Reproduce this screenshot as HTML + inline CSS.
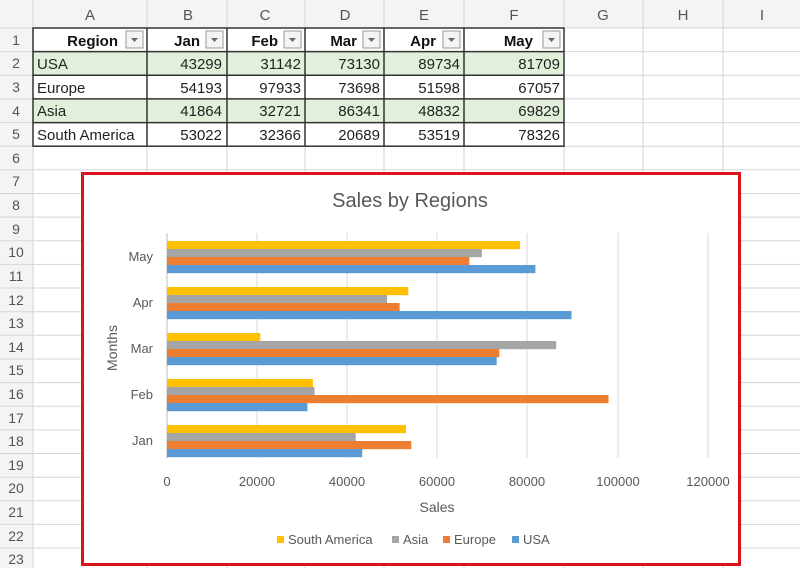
<!DOCTYPE html>
<html><head><meta charset="utf-8"><style>
html,body{margin:0;padding:0;background:#fff;}
svg{display:block;font-family:"Liberation Sans",sans-serif;}
</style></head><body>
<svg width="800" height="568" viewBox="0 0 800 568" xmlns="http://www.w3.org/2000/svg">
<rect width="800" height="568" fill="#fff"/>
<!-- column header band -->
<rect x="0" y="0" width="800" height="28" fill="#f4f4f4"/>
<rect x="0" y="0" width="33" height="568" fill="#f4f4f4"/>
<g stroke="#d6d6d6" stroke-width="1">
<line x1="33" y1="0" x2="33" y2="568"/><line x1="147" y1="0" x2="147" y2="568"/><line x1="227" y1="0" x2="227" y2="568"/><line x1="305" y1="0" x2="305" y2="568"/><line x1="384" y1="0" x2="384" y2="568"/><line x1="464" y1="0" x2="464" y2="568"/><line x1="564" y1="0" x2="564" y2="568"/><line x1="643" y1="0" x2="643" y2="568"/><line x1="723" y1="0" x2="723" y2="568"/>
<line x1="0" y1="28" x2="800" y2="28"/><line x1="0" y1="51.6" x2="800" y2="51.6"/><line x1="0" y1="75.3" x2="800" y2="75.3"/><line x1="0" y1="98.9" x2="800" y2="98.9"/><line x1="0" y1="122.6" x2="800" y2="122.6"/><line x1="0" y1="146.2" x2="800" y2="146.2"/><line x1="0" y1="169.8" x2="800" y2="169.8"/><line x1="0" y1="193.5" x2="800" y2="193.5"/><line x1="0" y1="217.1" x2="800" y2="217.1"/><line x1="0" y1="240.8" x2="800" y2="240.8"/><line x1="0" y1="264.4" x2="800" y2="264.4"/><line x1="0" y1="288" x2="800" y2="288"/><line x1="0" y1="311.7" x2="800" y2="311.7"/><line x1="0" y1="335.3" x2="800" y2="335.3"/><line x1="0" y1="359" x2="800" y2="359"/><line x1="0" y1="382.6" x2="800" y2="382.6"/><line x1="0" y1="406.2" x2="800" y2="406.2"/><line x1="0" y1="429.9" x2="800" y2="429.9"/><line x1="0" y1="453.5" x2="800" y2="453.5"/><line x1="0" y1="477.2" x2="800" y2="477.2"/><line x1="0" y1="500.8" x2="800" y2="500.8"/><line x1="0" y1="524.4" x2="800" y2="524.4"/><line x1="0" y1="548.1" x2="800" y2="548.1"/>
</g>
<g fill="#555" font-size="15" text-anchor="middle">
<text x="90" y="20">A</text><text x="188" y="20">B</text><text x="265" y="20">C</text><text x="345" y="20">D</text><text x="424" y="20">E</text><text x="514" y="20">F</text><text x="603" y="20">G</text><text x="683" y="20">H</text><text x="762" y="20">I</text>
</g>
<g fill="#555" font-size="14" text-anchor="middle">
<text x="16" y="45">1</text><text x="16" y="68">2</text><text x="16" y="92">3</text><text x="16" y="116">4</text><text x="16" y="139">5</text><text x="16" y="163">6</text><text x="16" y="186">7</text><text x="16" y="210">8</text><text x="16" y="234">9</text><text x="16" y="257">10</text><text x="16" y="281">11</text><text x="16" y="305">12</text><text x="16" y="328">13</text><text x="16" y="352">14</text><text x="16" y="375">15</text><text x="16" y="399">16</text><text x="16" y="423">17</text><text x="16" y="446">18</text><text x="16" y="470">19</text><text x="16" y="493">20</text><text x="16" y="517">21</text><text x="16" y="541">22</text><text x="16" y="564">23</text>
</g>
<!-- table -->
<rect x="33" y="28" width="531" height="23.6" fill="#fff"/>
<rect x="33" y="51.6" width="531" height="23.7" fill="#e2efda"/>
<rect x="33" y="98.9" width="531" height="23.7" fill="#e2efda"/>
<g stroke="#333" stroke-width="1.5" fill="none">
<rect x="33" y="28" width="531" height="118.2"/>
<line x1="33" y1="51.6" x2="564" y2="51.6"/><line x1="33" y1="75.3" x2="564" y2="75.3"/><line x1="33" y1="98.9" x2="564" y2="98.9"/><line x1="33" y1="122.6" x2="564" y2="122.6"/>
<line x1="147" y1="28" x2="147" y2="146"/><line x1="227" y1="28" x2="227" y2="146"/><line x1="305" y1="28" x2="305" y2="146"/><line x1="384" y1="28" x2="384" y2="146"/><line x1="464" y1="28" x2="464" y2="146"/>
</g>
<g fill="#f4f4f4" stroke="#999">
<rect x="126" y="31" width="17" height="17"/><rect x="206" y="31" width="17" height="17"/><rect x="284" y="31" width="17" height="17"/><rect x="363" y="31" width="17" height="17"/><rect x="443" y="31" width="17" height="17"/><rect x="543" y="31" width="17" height="17"/>
</g>
<g fill="#666"><path d="M131 38h7l-3.5 4z"/><path d="M211 38h7l-3.5 4z"/><path d="M289 38h7l-3.5 4z"/><path d="M368 38h7l-3.5 4z"/><path d="M448 38h7l-3.5 4z"/><path d="M548 38h7l-3.5 4z"/></g>
<g font-size="15" font-weight="bold" fill="#111" text-anchor="end">
<text x="118" y="46">Region</text><text x="200" y="46">Jan</text><text x="278" y="46">Feb</text><text x="357" y="46">Mar</text><text x="436" y="46">Apr</text><text x="533" y="46">May</text>
</g>
<g font-size="15" fill="#222">
<text x="37" y="69">USA</text><text x="37" y="93">Europe</text><text x="37" y="116">Asia</text><text x="37" y="140">South America</text>
</g>
<g font-size="15" fill="#222" text-anchor="end">
<text x="222" y="69">43299</text><text x="301" y="69">31142</text><text x="380" y="69">73130</text><text x="460" y="69">89734</text><text x="560" y="69">81709</text>
<text x="222" y="93">54193</text><text x="301" y="93">97933</text><text x="380" y="93">73698</text><text x="460" y="93">51598</text><text x="560" y="93">67057</text>
<text x="222" y="116">41864</text><text x="301" y="116">32721</text><text x="380" y="116">86341</text><text x="460" y="116">48832</text><text x="560" y="116">69829</text>
<text x="222" y="140">53022</text><text x="301" y="140">32366</text><text x="380" y="140">20689</text><text x="460" y="140">53519</text><text x="560" y="140">78326</text>
</g>
<!-- chart -->
<rect x="82.5" y="173.5" width="657" height="391" fill="#fff" stroke="#d9141c" stroke-width="3"/>
<text x="410" y="207" font-size="20" fill="#595959" text-anchor="middle">Sales by Regions</text>
<g stroke="#d9d9d9" stroke-width="1">
<line x1="257" y1="233" x2="257" y2="458"/><line x1="347" y1="233" x2="347" y2="458"/><line x1="437" y1="233" x2="437" y2="458"/><line x1="527" y1="233" x2="527" y2="458"/><line x1="618" y1="233" x2="618" y2="458"/><line x1="708" y1="233" x2="708" y2="458"/>
</g>
<line x1="167" y1="233" x2="167" y2="458" stroke="#bfbfbf"/>
<g>
<!-- May -->
<rect x="167" y="241" width="353.1" height="8.2" fill="#FFC000"/><rect x="167" y="249" width="314.8" height="8.2" fill="#A5A5A5"/><rect x="167" y="257" width="302.3" height="8.2" fill="#ED7D31"/><rect x="167" y="265" width="368.4" height="8.2" fill="#5B9BD5"/>
<!-- Apr -->
<rect x="167" y="287" width="241.3" height="8.2" fill="#FFC000"/><rect x="167" y="295" width="220.1" height="8.2" fill="#A5A5A5"/><rect x="167" y="303" width="232.6" height="8.2" fill="#ED7D31"/><rect x="167" y="311" width="404.5" height="8.2" fill="#5B9BD5"/>
<!-- Mar -->
<rect x="167" y="333" width="93.3" height="8.2" fill="#FFC000"/><rect x="167" y="341" width="389.2" height="8.2" fill="#A5A5A5"/><rect x="167" y="349" width="332.3" height="8.2" fill="#ED7D31"/><rect x="167" y="357" width="329.7" height="8.2" fill="#5B9BD5"/>
<!-- Feb -->
<rect x="167" y="379" width="145.9" height="8.2" fill="#FFC000"/><rect x="167" y="387" width="147.5" height="8.2" fill="#A5A5A5"/><rect x="167" y="395" width="441.5" height="8.2" fill="#ED7D31"/><rect x="167" y="403" width="140.4" height="8.2" fill="#5B9BD5"/>
<!-- Jan -->
<rect x="167" y="425" width="239.0" height="8.2" fill="#FFC000"/><rect x="167" y="433" width="188.7" height="8.2" fill="#A5A5A5"/><rect x="167" y="441" width="244.3" height="8.2" fill="#ED7D31"/><rect x="167" y="449" width="195.2" height="8.2" fill="#5B9BD5"/>
</g>
<g font-size="13" fill="#595959" text-anchor="end">
<text x="153" y="261">May</text><text x="153" y="307">Apr</text><text x="153" y="353">Mar</text><text x="153" y="399">Feb</text><text x="153" y="445">Jan</text>
</g>
<g font-size="13" fill="#595959" text-anchor="middle">
<text x="167" y="486">0</text><text x="257" y="486">20000</text><text x="347" y="486">40000</text><text x="437" y="486">60000</text><text x="527" y="486">80000</text><text x="618" y="486">100000</text><text x="708" y="486">120000</text>
</g>
<text x="437" y="512" font-size="14" fill="#595959" text-anchor="middle">Sales</text>
<text transform="translate(117,348) rotate(-90)" font-size="14" fill="#595959" text-anchor="middle">Months</text>
<g font-size="13" fill="#595959">
<rect x="277" y="536" width="7" height="7" fill="#FFC000"/><text x="288" y="544">South America</text>
<rect x="392" y="536" width="7" height="7" fill="#A5A5A5"/><text x="403" y="544">Asia</text>
<rect x="443" y="536" width="7" height="7" fill="#ED7D31"/><text x="454" y="544">Europe</text>
<rect x="512" y="536" width="7" height="7" fill="#5B9BD5"/><text x="523" y="544">USA</text>
</g>
</svg>
</body></html>
